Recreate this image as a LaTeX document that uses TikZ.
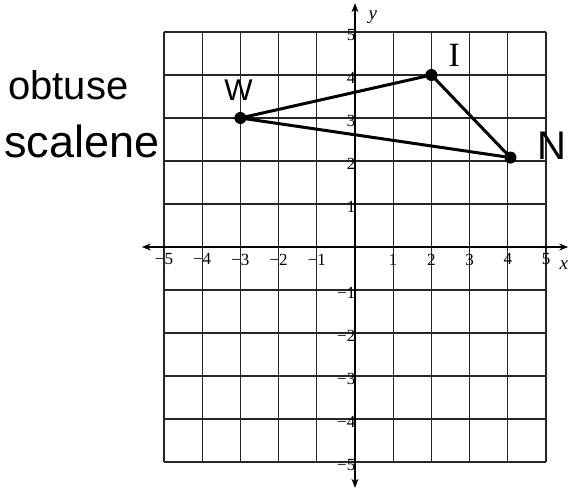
\documentclass[tikz,border=0pt]{standalone}
\usepackage{fontspec}
\setmainfont{Liberation Serif}
\newfontfamily\hand{Liberation Sans}
\usetikzlibrary{arrows.meta}
\tikzset{
  gridline/.style={line width=1.1pt, black!85},
  axisline/.style={line width=1.2pt, black, {Stealth[length=9pt,width=7pt]}-{Stealth[length=9pt,width=7pt]}},
  tri/.style={line width=3pt, black},
  ptdot/.style={circle, fill=black, inner sep=0pt, minimum size=12pt},
  ticklab/.style={font=\fontsize{17}{17}\selectfont, inner sep=1pt},
  handlab/.style={font=\hand\fontsize{30}{30}\selectfont, inner sep=0pt},
  handword/.style={font=\hand\fontsize{40}{40}\selectfont, inner sep=0pt, anchor=base west},
}
\begin{document}
\begin{tikzpicture}[x=1pt,y=-1pt]
\useasboundingbox[fill=white] (0,0) rectangle (571,492);
\node[handword] (obt) at (8,100) {obtuse};
\node[handword, font=\hand\fontsize{45}{45}\selectfont] (sca) at (4,158) {scalene};
\begin{scope}[shift={(355pt,-247pt)}, x=38.2pt, y=43pt]
  \foreach \i in {-5,...,5} {
    \draw[gridline] (\i,-5) -- (\i,5);
    \draw[gridline] (-5,\i) -- (5,\i);
  }
  \coordinate (xl) at (-5.58,0);
  \coordinate (xr) at (5.58,0);
  \coordinate (yb) at (0,-5.6);
  \coordinate (yt) at (0,5.67);
  \draw[axisline] (xl) -- (xr);
  \draw[axisline] (yb) -- (yt);
  \foreach \i/\t in {-5/−5,-4/−4,-3/−3,-2/−2,-1/−1,1/1,2/2,3/3,4/4,5/5} {
    \node[ticklab, anchor=north] (xt\i) at (\i,-0.13) {\t};
  }
  \foreach \j/\t in {-5/−5,-4/−4,-3/−3,-2/−2,-1/−1,1/1,2/2,3/3,4/4,5/5} {
    \node[ticklab, anchor=east] (yt\j) at (0.04,\j-0.07) {\t};
  }
  \node[ticklab, font=\itshape\fontsize{19}{19}\selectfont] (xlab) at (5.47,-0.42) {x};
  \node[ticklab, font=\itshape\fontsize{19}{19}\selectfont] (ylab) at (0.47,5.35) {y};
  \node[ptdot] (W) at (-3,3) {};
  \node[ptdot] (I) at (2,4) {};
  \node[ptdot] (N) at (4.07,2.08) {};
  \draw[tri] (W.center) -- (I.center) -- (N.center) -- cycle;
  \node[handlab] (Wl) at (-3.05,3.65) {W};
  \node[handlab, font=\fontsize{34}{34}\selectfont] (Il) at (2.6,4.45) {I};
  \node[handlab, font=\hand\fontsize{40}{40}\selectfont] (Nl) at (5.15,2.35) {N};
\end{scope}
\end{tikzpicture}
\end{document}
